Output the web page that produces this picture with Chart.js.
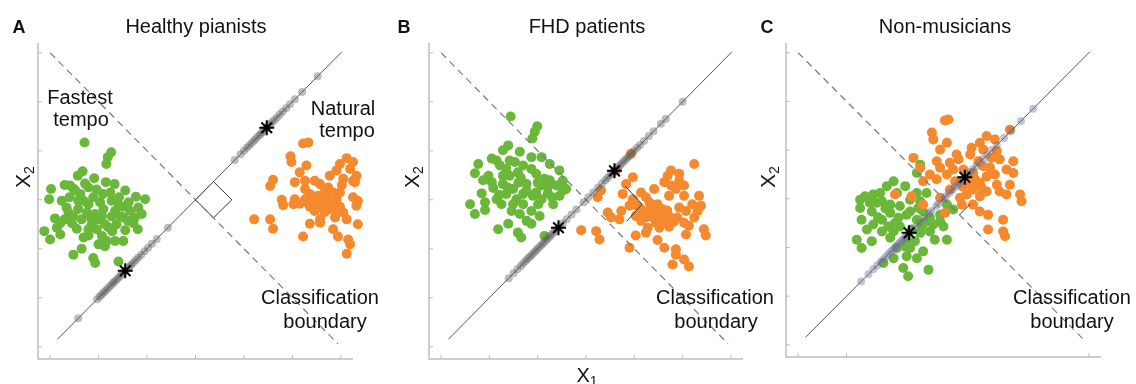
<!DOCTYPE html>
<html>
<head>
<meta charset="utf-8">
<script src="https://cdn.jsdelivr.net/npm/chart.js@4.4.1/dist/chart.umd.min.js"></script>
<style>
    body { margin: 0; background: #fff; width: 1136px; height: 384px; overflow: hidden; position: relative;
           font-family: "Liberation Sans", Arial, sans-serif; color: #111; }
    canvas { position: absolute; top: 0; }
    .t { position: absolute; white-space: nowrap; transform: translate(-50%, -50%); font-size: 20px; line-height: 22px; }
    .p { font-weight: bold; font-size: 18px; }
    .rot { transform: translate(-50%, -50%) rotate(-90deg); font-size: 21px; }
    sub { font-size: 14px; vertical-align: -4px; line-height: 0; }
</style>
</head>
<body>
<canvas id="chartA" width="380" height="384" style="left:0"></canvas>
<canvas id="chartB" width="380" height="384" style="left:390px"></canvas>
<canvas id="chartC" width="380" height="384" style="left:756px"></canvas>

<div class="t p" style="left:19px;top:27px">A</div>
<div class="t" style="left:196px;top:26px">Healthy pianists</div>
<div class="t rot" style="left:23px;top:177px">X<sub>2</sub></div>
<div class="t" style="left:80px;top:97px">Fastest</div>
<div class="t" style="left:81px;top:119px">tempo</div>
<div class="t" style="left:343px;top:108px">Natural</div>
<div class="t" style="left:347px;top:130px">tempo</div>
<div class="t" style="left:320px;top:297px">Classification</div>
<div class="t" style="left:325px;top:321px">boundary</div>

<div class="t p" style="left:404px;top:27px">B</div>
<div class="t" style="left:587px;top:26px">FHD patients</div>
<div class="t rot" style="left:412px;top:177px">X<sub>2</sub></div>
<div class="t" style="left:587px;top:375px">X<sub>1</sub></div>
<div class="t" style="left:715px;top:297px">Classification</div>
<div class="t" style="left:716px;top:321px">boundary</div>

<div class="t p" style="left:767px;top:27px">C</div>
<div class="t" style="left:945px;top:26px">Non-musicians</div>
<div class="t rot" style="left:768px;top:177px">X<sub>2</sub></div>
<div class="t" style="left:1072px;top:297px">Classification</div>
<div class="t" style="left:1072px;top:321px">boundary</div>

<script>
// axis ticks (same for every panel, C has only a few bottom ticks)
const ticksAll = [0, 1, 2, 3, 4, 5, 6];
const ticksBottomC = [0, 1, 6];

// the two lines and the right-angle mark
const solidLine = [[0.15, 0.15], [6.02, 6.02]];
const dashedLine = [[0, 6], [5.94, 0.06]];
const markA = [[3, 3], [3.37, 3.37], [3.75, 3], [3.37, 2.63], [3, 3]];
const markB = [[3.81, 3.28], [4.16, 2.91], [3.84, 2.56]];
const markC = [[3.33, 2.67], [3.55, 2.89]];

// A - healthy pianists
const greenA = [[0.71,4.17],[1.26,3.97],[1.19,3.87],[1.16,3.73],[0.67,3.58],[0.57,3.49],[0.91,3.44],[1.15,3.36],
    [1.33,3.32],[0.30,3.30],[0.41,3.29],[0.48,3.23],[0.02,3.22],[0.79,3.25],[0.96,3.21],[1.55,3.19],[0.62,3.12],
    [1.09,3.12],[1.77,3.06],[1.96,3.01],[-0.02,3.01],[0.24,2.98],[0.69,2.98],[1.27,2.98],[0.79,2.91],[1.51,2.86],
    [1.82,2.84],[0.58,2.81],[1.10,2.81],[1.34,2.77],[1.65,2.77],[0.38,2.74],[0.76,2.74],[0.93,2.71],[1.89,2.71],
    [0.48,2.66],[1.27,2.66],[1.46,2.66],[1.75,2.64],[0.10,2.62],[0.65,2.60],[1.00,2.60],[1.61,2.57],[0.21,2.52],
    [0.45,2.52],[0.86,2.50],[1.13,2.50],[1.37,2.50],[1.72,2.52],[0.14,2.43],[0.55,2.41],[0.96,2.40],[-0.12,2.36],
    [1.28,2.36],[1.55,2.38],[1.81,2.40],[0.21,2.29],[0.79,2.27],[1.07,2.26],[0.00,2.19],[0.69,2.23],[1.17,2.16],
    [1.34,2.16],[1.51,2.16],[1.00,2.09],[1.13,2.05],[0.65,2.00],[0.48,1.88],[0.89,1.81],[0.93,1.71],[1.41,1.74],
    [0.52,3.19],[0.89,3.05],[1.41,2.91],[0.34,2.84],[1.51,2.64],[0.79,2.40],[1.24,3.15],[1.07,2.67],[0.58,2.98],
    [1.03,2.95],[0.85,2.62],[1.20,2.44],[0.40,3.05],[1.62,2.95],[0.72,3.33],[1.42,3.05],[0.30,2.60]];
const orangeA = [[5.22,4.15],[5.33,4.17],[4.96,3.89],[4.98,3.77],[5.29,3.70],[6.12,3.85],[5.98,3.73],[6.25,3.77],
    [6.40,3.97],[5.15,3.56],[5.77,3.49],[5.91,3.60],[6.32,3.49],[4.60,3.41],[5.05,3.36],[5.26,3.39],[5.46,3.39],
    [5.57,3.32],[6.05,3.43],[6.25,3.39],[4.54,3.28],[5.26,3.22],[5.74,3.25],[6.36,3.32],[5.36,3.12],[6.40,3.15],
    [4.78,3.00],[5.05,3.01],[5.26,3.01],[5.46,3.00],[5.70,3.05],[5.91,3.01],[6.25,3.05],[6.35,2.98],[4.81,2.89],
    [5.02,2.91],[5.36,2.86],[5.57,2.88],[5.81,2.89],[5.98,2.86],[6.32,2.88],[5.46,2.77],[5.67,2.75],[5.88,2.77],
    [6.05,2.74],[6.36,2.74],[4.21,2.60],[4.54,2.60],[5.57,2.60],[5.88,2.64],[6.12,2.60],[4.60,2.41],[5.36,2.51],
    [5.57,2.53],[5.84,2.40],[6.35,2.50],[5.22,2.25],[5.94,2.25],[6.15,2.19],[6.19,2.09],[6.36,2.02],[6.12,1.90],
    [6.40,1.88],[5.67,3.22],[5.84,3.15],[5.53,3.08],[5.98,3.15],[5.91,2.88],[5.77,2.81],[5.29,2.95],[6.19,3.63],
    [6.29,3.36],[5.40,2.93],[5.62,2.95],[5.72,2.92],[5.52,2.85],[5.15,2.92],[5.85,2.95],[6.02,3.30]];
const grayA = [0.58, 0.97, 1.02, 1.06, 1.1, 1.14, 1.18, 1.22, 1.26, 1.3, 1.33, 1.37, 1.41, 1.45, 1.49, 1.52,
    1.56, 1.6, 1.64, 1.68, 1.72, 1.77, 1.82, 1.88, 1.95, 2.02, 2.1, 2.2, 2.43, 3.81, 3.93, 4.0, 4.06, 4.11, 4.16,
    4.21, 4.25, 4.3, 4.34, 4.38, 4.42, 4.46, 4.5, 4.54, 4.58, 4.63, 4.68, 4.74, 4.8, 4.87, 4.95, 5.05, 5.2, 5.52];
const starsA = [[1.55, 1.55], [4.47, 4.47]];

// B - FHD patients
const greenB = [[1.44,4.70],[1.99,4.50],[1.94,4.39],[1.89,4.25],[1.39,4.11],[1.28,4.01],[1.63,3.98],[1.87,3.87],
    [2.08,3.87],[1.05,3.84],[1.15,3.80],[0.77,3.73],[1.53,3.77],[2.25,3.73],[1.70,3.70],[2.45,3.60],[1.35,3.63],
    [0.70,3.54],[0.98,3.49],[1.97,3.53],[1.42,3.49],[2.25,3.40],[2.52,3.39],[0.87,3.40],[1.28,3.32],[1.77,3.32],
    [2.08,3.29],[2.39,3.29],[1.08,3.24],[1.49,3.22],[2.59,3.22],[1.97,3.15],[2.21,3.13],[0.84,3.13],[1.35,3.12],
    [1.70,3.12],[2.45,3.08],[1.15,3.01],[1.56,3.01],[2.08,3.01],[0.91,2.95],[1.25,2.91],[2.32,2.91],[0.60,2.91],
    [1.70,2.91],[0.91,2.79],[1.46,2.77],[1.87,2.77],[0.70,2.71],[1.63,2.71],[2.04,2.67],[1.77,2.57],[1.87,2.51],
    [1.39,2.51],[1.18,2.40],[1.59,2.33],[1.66,2.23],[2.14,2.26],[1.22,3.70],[1.59,3.56],[2.14,3.43],[1.05,3.36],
    [2.21,3.26],[1.49,2.91],[1.87,3.63],[1.77,3.19],[1.28,3.49],[2.52,3.19],[1.42,3.80],[2.01,2.91],
    [1.60,3.35],[1.90,3.08],[1.38,3.25],[2.30,3.05],[1.65,3.45],[2.00,3.35],[1.20,3.10]];
const orangeB = [[3.93,3.94],[3.62,3.60],[5.24,3.73],[3.97,3.46],[4.69,3.49],[4.76,3.60],[4.93,3.53],[3.83,3.32],
    [4.62,3.36],[5.03,3.29],[3.31,3.19],[3.76,3.12],[4.14,3.15],[4.41,3.22],[4.86,3.22],[3.24,3.05],[3.97,3.01],
    [4.24,3.05],[4.72,3.08],[5.03,3.08],[5.34,3.08],[5.20,2.91],[5.38,2.88],[3.90,2.88],[4.14,2.81],[4.34,2.84],
    [4.58,2.81],[4.93,2.84],[5.07,2.77],[3.45,2.74],[3.73,2.77],[3.52,2.64],[4.03,2.67],[4.24,2.64],[4.48,2.67],
    [4.72,2.67],[5.24,2.64],[3.69,2.60],[4.14,2.57],[4.45,2.53],[4.65,2.53],[5.03,2.53],[4.52,2.43],[4.72,2.45],
    [5.13,2.47],[5.44,2.40],[2.90,2.38],[3.21,2.36],[4.24,2.33],[4.03,2.27],[5.07,2.29],[5.48,2.27],[3.28,2.19],
    [4.48,2.18],[3.90,2.02],[4.62,2.02],[4.86,1.99],[4.86,1.88],[5.03,1.78],[4.79,1.68],[5.13,1.64],[4.31,2.95],
    [4.48,2.91],[4.62,2.74],[4.38,2.64],[4.58,2.60],[4.93,3.39],[4.76,3.29],[4.28,2.43],[4.89,2.64],[5.31,2.77],
    [4.40,2.75],[4.55,2.70],[4.68,2.78],[4.20,2.72],[4.50,2.58],[4.82,2.55],[4.05,2.88]];
const grayB = [1.4, 1.5, 1.58, 1.65, 1.7, 1.75, 1.79, 1.83, 1.87, 1.91, 1.95, 1.99, 2.03, 2.07, 2.11, 2.15, 2.19,
    2.23, 2.27, 2.31, 2.35, 2.4, 2.46, 2.52, 2.6, 2.7, 2.8, 2.95, 3.05, 3.15, 3.25, 3.33, 3.4, 3.45, 3.5, 3.54,
    3.58, 3.62, 3.66, 3.7, 3.74, 3.78, 3.82, 3.86, 3.9, 3.95, 4.0, 4.06, 4.12, 4.2, 4.3, 4.4, 4.55, 4.65, 5.0];
const starsB = [[2.43, 2.43], [3.59, 3.59]];

// C - non-musicians
const greenC = [[2.52,3.70],[2.45,3.53],[1.97,3.36],[1.83,3.26],[2.21,3.26],[1.38,3.05],[1.55,3.09],[1.69,3.12],
    [2.04,3.12],[2.45,3.12],[2.65,3.12],[1.28,2.98],[1.73,2.95],[2.31,2.98],[2.52,2.95],[1.90,2.88],[1.28,2.81],
    [2.10,2.85],[1.52,2.74],[2.31,2.74],[2.58,2.74],[1.90,2.71],[3.07,2.88],[3.20,2.78],[1.31,2.57],[1.73,2.57],
    [2.07,2.61],[2.45,2.57],[2.93,2.54],[1.55,2.47],[1.86,2.43],[2.10,2.43],[2.55,2.43],[2.79,2.47],[3.00,2.43],
    [1.42,2.37],[1.73,2.33],[2.52,2.30],[2.72,2.33],[1.21,2.16],[1.52,2.13],[1.90,2.20],[2.24,2.16],[2.41,2.13],
    [2.82,2.16],[3.07,2.16],[1.31,1.99],[2.04,1.99],[2.31,1.99],[2.58,1.92],[1.97,1.78],[2.24,1.82],[2.45,1.78],
    [1.76,1.68],[2.17,1.58],[2.69,1.54],[2.27,1.41],[1.62,2.92],[2.24,2.67],[2.72,2.61],[1.97,2.33],[2.34,2.37],
    [2.48,2.81],[1.48,2.92],[2.93,2.67],[2.21,2.02],[1.65,2.62],[2.00,2.50],[2.62,2.52],[1.80,2.80]];
const orangeC = [[3.03,4.61],[3.10,4.63],[2.76,4.36],[2.79,4.22],[3.07,4.15],[4.37,4.42],[3.89,4.29],[4.06,4.22],
    [3.75,4.15],[2.93,4.01],[3.27,3.91],[3.55,3.91],[3.82,4.01],[4.10,3.98],[2.38,3.84],[2.86,3.77],[3.13,3.74],
    [3.31,3.81],[3.72,3.77],[4.16,3.81],[4.44,3.77],[2.52,3.64],[2.93,3.64],[3.20,3.60],[3.96,3.64],[4.30,3.60],
    [2.72,3.50],[3.07,3.50],[3.61,3.53],[3.89,3.46],[4.06,3.50],[4.44,3.53],[2.58,3.36],[2.86,3.40],[3.34,3.36],
    [3.75,3.33],[4.10,3.29],[4.37,3.29],[3.13,3.19],[3.61,3.19],[3.89,3.15],[4.16,3.15],[2.00,3.09],[2.34,3.05],
    [2.93,3.02],[3.34,3.02],[3.75,3.05],[4.30,3.09],[4.58,3.09],[4.61,2.95],[2.58,2.88],[3.61,2.88],[3.75,2.74],
    [3.92,2.67],[3.03,2.71],[4.23,2.57],[3.92,2.37],[4.23,2.33],[4.27,2.23],[3.48,3.46],[3.41,3.60],[3.82,3.67],
    [3.99,3.84],[3.58,4.05],[3.24,3.36],[3.79,3.22],[3.48,3.09],[3.38,2.88],[3.55,3.30],[3.40,3.25],[3.65,3.40]];
const grayC = [1.3, 1.45, 1.55, 1.63, 1.7, 1.76, 1.82, 1.87, 1.92, 1.96, 2.0, 2.04, 2.08, 2.12, 2.16, 2.2, 2.25,
    2.3, 2.35, 2.4, 2.5, 2.6, 2.7, 2.85, 3.0, 2.75, 2.9, 3.05, 3.12, 3.18, 3.24, 3.29, 3.34, 3.38, 3.42, 3.46, 3.5,
    3.55, 3.6, 3.67, 3.74, 3.82, 3.9, 4.0, 4.1, 4.25, 4.4, 4.6, 4.85];
const starsC = [[2.29, 2.3], [3.44, 3.44]];

const GREEN = 'rgb(106, 183, 58)';
const ORANGE = 'rgb(245, 137, 46)';

function pts(arr) {
    return arr.map(p => ({ x: p[0], y: p[1] }));
}

function onDiagonal(ts) {
    return ts.map(t => ({ x: t, y: t }));
}

// axis lines with small inward ticks, like the original figure
const insideAxes = {
    id: 'insideAxes',
    beforeDatasetsDraw(chart, args, opts) {
        const { ctx, chartArea } = chart;
        const xs = chart.scales.x, ys = chart.scales.y;
        ctx.save();
        ctx.strokeStyle = '#bdbdbd';
        ctx.lineWidth = 1.5;
        ctx.beginPath();
        ctx.moveTo(chartArea.left, chartArea.top);
        ctx.lineTo(chartArea.left, chartArea.bottom);
        ctx.lineTo(chartArea.right, chartArea.bottom);
        ctx.stroke();
        ctx.lineWidth = 1;
        ctx.beginPath();
        opts.xTicks.forEach(v => {
            const px = xs.getPixelForValue(v);
            ctx.moveTo(px, chartArea.bottom);
            ctx.lineTo(px, chartArea.bottom - 4);
        });
        opts.yTicks.forEach(v => {
            const py = ys.getPixelForValue(v);
            ctx.moveTo(chartArea.left, py);
            ctx.lineTo(chartArea.left + 4, py);
        });
        ctx.stroke();
        ctx.restore();
    }
};

function makePanel(id, padding, green, orange, gray, grayColor, stars, mark, xTicks) {
    const ctx = document.getElementById(id).getContext('2d');
    return new Chart(ctx, {
        type: 'scatter',
        data: {
            datasets: [{
                data: pts(stars),
                pointStyle: 'star',
                pointRadius: 7.5,
                borderColor: '#000',
                borderWidth: 2,
                order: 0
            }, {
                data: onDiagonal(gray),
                backgroundColor: grayColor,
                borderWidth: 0,
                pointRadius: 4,
                order: 2
            }, {
                data: pts(solidLine),
                showLine: true,
                borderColor: '#555',
                borderWidth: 1,
                pointRadius: 0,
                order: 3
            }, {
                data: pts(dashedLine),
                showLine: true,
                borderColor: '#7a7a7a',
                borderWidth: 1.2,
                borderDash: [7, 5],
                pointRadius: 0,
                order: 3
            }, {
                data: pts(mark),
                showLine: true,
                borderColor: '#333',
                borderWidth: 1,
                pointRadius: 0,
                order: 3
            }, {
                data: pts(orange),
                backgroundColor: ORANGE,
                borderWidth: 0,
                pointRadius: 5,
                order: 5
            }, {
                data: pts(green),
                backgroundColor: GREEN,
                borderWidth: 0,
                pointRadius: 5,
                order: 6
            }]
        },
        options: {
            responsive: false,
            animation: false,
            events: [],
            clip: false,
            layout: { padding: padding },
            scales: {
                x: { type: 'linear', min: -0.25, max: 6.25, display: false },
                y: { type: 'linear', min: -0.25, max: 6.2, display: false }
            },
            plugins: {
                legend: { display: false },
                tooltip: { enabled: false },
                insideAxes: { xTicks: xTicks, yTicks: ticksAll }
            }
        },
        plugins: [insideAxes]
    });
}

document.addEventListener('DOMContentLoaded', () => {
    makePanel('chartA', { left: 38, right: 27, top: 43, bottom: 25 }, greenA, orangeA, grayA,
        'rgba(95,95,95,0.42)', starsA, markA, ticksAll);
    makePanel('chartB', { left: 39, right: 27, top: 43, bottom: 25 }, greenB, orangeB, grayB,
        'rgba(95,95,95,0.42)', starsB, markB, ticksAll);
    makePanel('chartC', { left: 30, right: 35, top: 43, bottom: 27 }, greenC, orangeC, grayC,
        'rgba(110,115,150,0.42)', starsC, markC, ticksBottomC);
});
</script>
</body>
</html>
